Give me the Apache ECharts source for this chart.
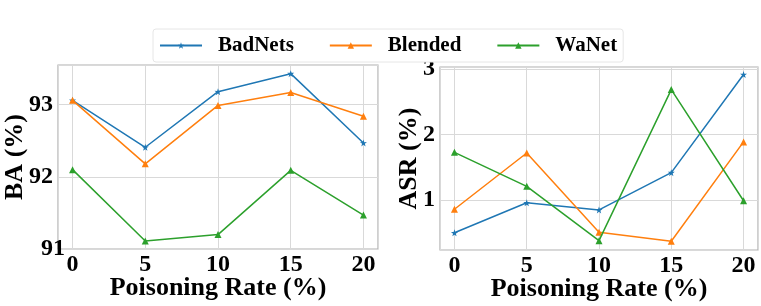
<!DOCTYPE html>
<html>
<head>
<meta charset="utf-8">
<script src="https://cdn.jsdelivr.net/npm/echarts@6/dist/echarts.min.js"></script>
<style>
html,body{margin:0;padding:0;background:#fff;}
#c{width:761px;height:306px;}
</style>
</head>
<body>
<div id="c"></div>
<script>
const rates = [0, 5, 10, 15, 20];
const seriesNames = ['BadNets', 'Blended', 'WaNet'];
const baBadNets = [93.06, 92.41, 93.18, 93.43, 92.47];
const baBlended = [93.06, 92.18, 92.99, 93.17, 92.84];
const baWaNet = [92.10, 91.11, 91.20, 92.09, 91.47];
const asrBadNets = [0.50, 0.96, 0.85, 1.42, 2.92];
const asrBlended = [0.86, 1.72, 0.51, 0.37, 1.89];
const asrWaNet = [1.73, 1.21, 0.38, 2.69, 0.99];
const colors = ['#1f77b4', '#ff7f0e', '#2ca02c'];
const symbols = [
  'path://M50,0 L61.8,35.1 L97.6,34.5 L69,56 L79.4,90.5 L50,70 L20.6,90.5 L31,56 L2.4,34.5 L38.2,35.1 Z',
  'triangle', 'triangle'
];
const symSizes = [7, 7, 7];

const FONT = 'Liberation Serif';
const gridColor = '#d9d9d9';
const frameColor = '#b0b0b0';

function pair(xs, ys) { return xs.map((x, i) => [x, ys[i]]); }
function intOnly(v) { return Math.abs(v - Math.round(v)) < 1e-6 ? String(Math.round(v)) : ''; }

const leftData = [baBadNets, baBlended, baWaNet];
const rightData = [asrBadNets, asrBlended, asrWaNet];

function xAxisFor(gi) {
  return {
    type: 'value', gridIndex: gi, min: -1, max: 21,
    name: 'Poisoning Rate (%)', nameLocation: 'middle', nameGap: 26, nameMoveOverlap: false,
    nameTextStyle: { fontFamily: FONT, fontWeight: 'bold', fontSize: 26, color: '#000' },
    axisLine: { show: false },
    axisTick: { show: false },
    axisLabel: { formatter: intOnly, fontFamily: FONT, fontWeight: 'bold', fontSize: 24, color: '#000', margin: 4,
      hideOverlap: false, alignMinLabel: 'center', alignMaxLabel: 'center' },
    splitLine: { show: true, lineStyle: { color: gridColor, width: 1 } }
  };
}
function yAxisFor(gi, name, min, max, gap) {
  return {
    type: 'value', gridIndex: gi, min: min, max: max, splitNumber: 3,
    name: name, nameLocation: 'middle', nameGap: gap, nameMoveOverlap: false,
    nameTextStyle: { fontFamily: FONT, fontWeight: 'bold', fontSize: 26, color: '#000' },
    axisLine: { show: false },
    axisTick: { show: false },
    axisLabel: { formatter: intOnly, fontFamily: FONT, fontWeight: 'bold', fontSize: 24, color: '#000', margin: 5,
      hideOverlap: false, alignMinLabel: 'center', alignMaxLabel: 'center' },
    splitLine: { show: true, lineStyle: { color: gridColor, width: 1 } }
  };
}

const series = [];
[leftData, rightData].forEach((group, gi) => {
  group.forEach((vals, si) => {
    series.push({
      name: seriesNames[si], type: 'line', xAxisIndex: gi, yAxisIndex: gi,
      data: pair(rates, vals),
      symbol: symbols[si], symbolSize: symSizes[si], showSymbol: true,
      lineStyle: { color: colors[si], width: 1.5 },
      itemStyle: { color: colors[si] },
      animation: false, z: 3 + si
    });
  });
});

const chart = echarts.init(document.getElementById('c'), null, { renderer: 'canvas' });
chart.setOption({
  animation: false,
  backgroundColor: '#fff',
  grid: [
    { left: 58, top: 65, width: 320, height: 184, outerBoundsMode: 'none', containLabel: false,
      show: true, borderColor: frameColor, borderWidth: 1.2, backgroundColor: 'transparent' },
    { left: 440, top: 67, width: 318, height: 183, outerBoundsMode: 'none', containLabel: false,
      show: true, borderColor: frameColor, borderWidth: 1.2, backgroundColor: 'transparent' }
  ],
  legend: {
    data: seriesNames, left: 153, top: 29, width: 470,
    backgroundColor: '#fff', borderColor: '#e6e6e6', borderWidth: 1, borderRadius: 3,
    padding: [6, 6, 6, 6], itemWidth: 42, itemHeight: 8, itemGap: 35,
    textStyle: { fontFamily: FONT, fontWeight: 'bold', fontSize: 21, color: '#000', padding: [0, 0, 0, 11] }
  },
  xAxis: [xAxisFor(0), xAxisFor(1)],
  yAxis: [yAxisFor(0, 'BA (%)', 91, 93.55, 30), yAxisFor(1, 'ASR (%)', 0.237, 3.035, 18)],
  series: series
});
</script>
</body>
</html>
